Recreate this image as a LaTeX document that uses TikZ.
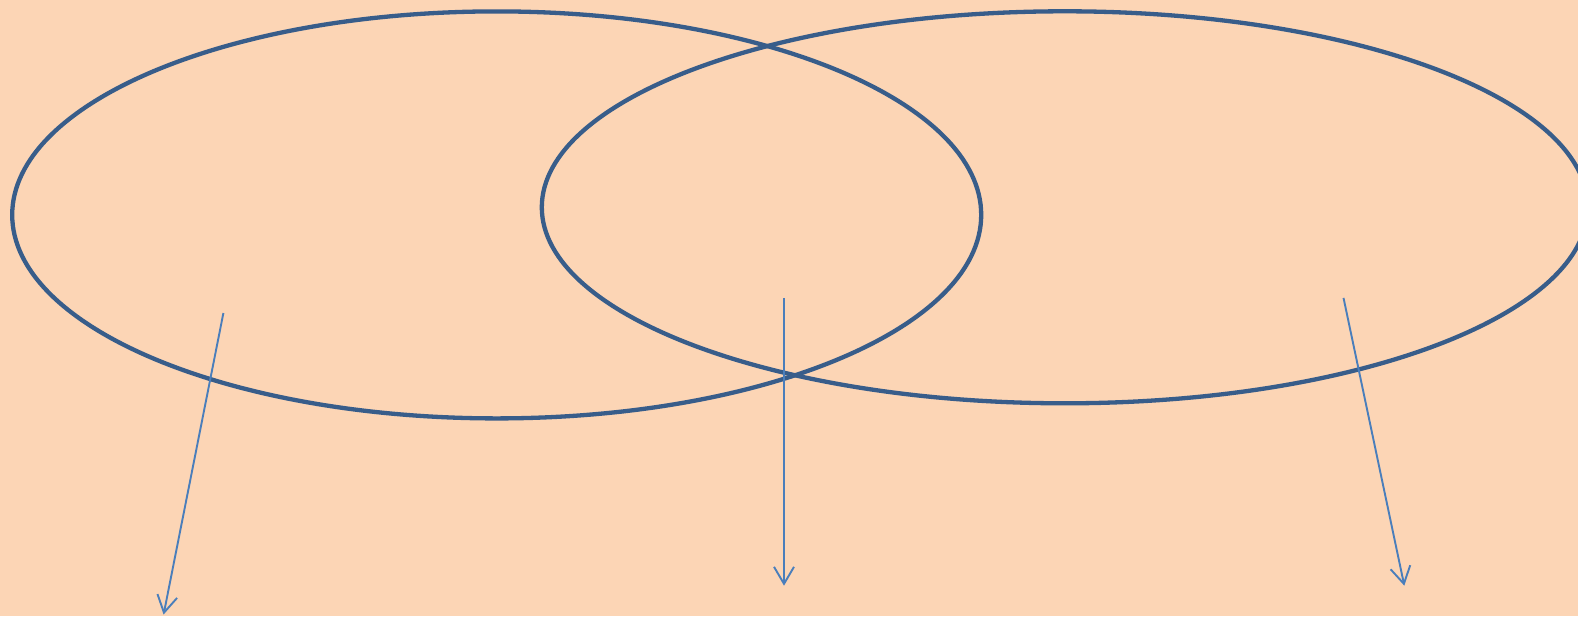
\documentclass[tikz,border=0pt]{standalone}
\usetikzlibrary{arrows.meta,shapes.geometric}
\definecolor{bgpeach}{HTML}{FCD5B5}
\definecolor{ringblue}{HTML}{385D8A}
\definecolor{arrowblue}{HTML}{4A7EBB}
\tikzset{
  ring/.style={draw=ringblue,line width=4.3pt,ellipse,inner sep=0pt,outer sep=0pt},
  pointer/.style={draw=arrowblue,line width=1.9pt,-{Straight Barb[length=17pt,width=20pt,line width=1.9pt]}}
}
\begin{document}
\begin{tikzpicture}[x=1pt,y=-1pt]
\fill[bgpeach] (0,0) rectangle (1578,616);
\useasboundingbox (0,0) rectangle (1578,616);
\node[ring,minimum width=969pt,minimum height=407pt] (left) at (496.7,214.9) {};
\node[ring,minimum width=1046pt,minimum height=392pt] (right) at (1064.8,207.3) {};
\coordinate (s1) at (223.4,313);
\coordinate (e1) at (163.6,614.5);
\coordinate (s2) at (784,297.9);
\coordinate (e2) at (784,585.7);
\coordinate (s3) at (1343.5,297.9);
\coordinate (e3) at (1404.3,585.7);
\draw[pointer] (s1) -- (e1);
\draw[pointer] (s2) -- (e2);
\draw[pointer] (s3) -- (e3);
\end{tikzpicture}
\end{document}
